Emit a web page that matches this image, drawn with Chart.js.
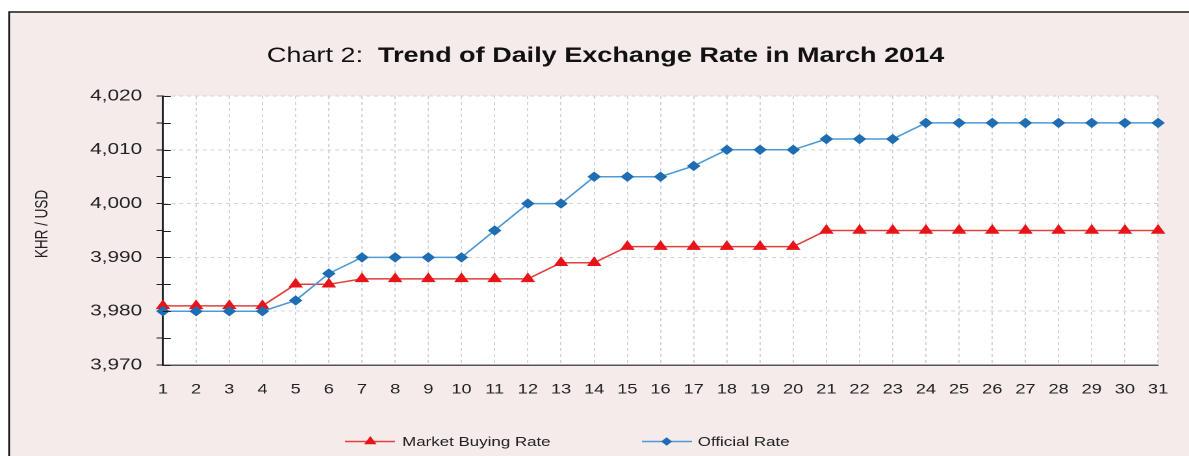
<!DOCTYPE html>
<html><head><meta charset="utf-8">
<script src="https://cdn.jsdelivr.net/npm/chart.js@4.4.1/dist/chart.umd.min.js"></script>
<style>
html,body{margin:0;padding:0;background:#fff;overflow:hidden;}
#wrap{position:absolute;left:0;top:0;width:915px;height:456px;transform:scaleX(1.29945);transform-origin:0 0;}
canvas{display:block;}
</style></head><body>
<div id="wrap"><canvas id="c" width="915" height="456" style="width:915px;height:456px"></canvas></div>
<script>
// ---- data ----
const days = ['1','2','3','4','5','6','7','8','9','10','11','12','13','14','15','16','17','18','19','20','21','22','23','24','25','26','27','28','29','30','31'];
const marketBuyingRate = [3981,3981,3981,3981,3985,3985,3986,3986,3986,3986,3986,3986,3989,3989,3992,3992,3992,3992,3992,3992,3995,3995,3995,3995,3995,3995,3995,3995,3995,3995,3995];
const officialRate = [3980,3980,3980,3980,3982,3987,3990,3990,3990,3990,3995,4000,4000,4005,4005,4005,4007,4010,4010,4010,4012,4012,4012,4015,4015,4015,4015,4015,4015,4015,4015];
const yMin = 3970, yMax = 4020, yStep = 5;
const titlePrefix = 'Chart 2:  ';
const titleMain = 'Trend of Daily Exchange Rate in March 2014';
const yTitle = 'KHR / USD';
const seriesNames = ['Market Buying Rate', 'Official Rate'];

const FONT = "'Liberation Sans', Arial, sans-serif";
const RED_LINE = '#e0403c', RED_PT = '#e81418';
const BLUE_LINE = '#4e9ad4', BLUE_PT = '#1f6db3';

const decor = {
  id: 'decor',
  beforeDraw(chart) {
    const ctx = chart.ctx, W = chart.width, H = chart.height, a = chart.chartArea;
    ctx.save();
    ctx.fillStyle = '#ffffff'; ctx.fillRect(0, 0, W, H);
    ctx.fillStyle = '#f5ebea'; ctx.fillRect(7, 12, W - 7, H - 12);
    ctx.strokeStyle = '#1a1a1a'; ctx.lineWidth = 1.4;
    ctx.beginPath(); ctx.moveTo(7, H); ctx.lineTo(7, 12); ctx.lineTo(W, 12); ctx.stroke();
    ctx.fillStyle = '#ffffff'; ctx.fillRect(a.left, a.top, a.right - a.left, a.bottom - a.top);
    ctx.restore();
  },
  afterDraw(chart) {
    const ctx = chart.ctx, a = chart.chartArea;
    ctx.save();
    // title
    ctx.textBaseline = 'alphabetic';
    ctx.fillStyle = '#111';
    const fs = 20.8;
    ctx.font = `${fs}px ${FONT}`;
    const w1 = ctx.measureText(titlePrefix).width;
    ctx.font = `bold ${fs}px ${FONT}`;
    const w2 = ctx.measureText(titleMain).width;
    const cx = 466, x0 = cx - (w1 + w2) / 2;
    ctx.font = `${fs}px ${FONT}`;
    ctx.textAlign = 'left';
    ctx.fillText(titlePrefix, x0, 62);
    ctx.font = `bold ${fs}px ${FONT}`;
    ctx.fillText(titleMain, x0 + w1, 62);
    // y title
    ctx.save();
    ctx.translate(33, 224);
    ctx.rotate(-Math.PI / 2);
    ctx.font = `13.5px ${FONT}`;
    ctx.textAlign = 'center';
    ctx.textBaseline = 'middle';
    ctx.fillStyle = '#222';
    ctx.fillText(yTitle, 0, 0);
    ctx.restore();
    // inner part of y tick marks
    const ys = chart.scales.y;
    ctx.strokeStyle = '#222'; ctx.lineWidth = 1;
    ys.ticks.forEach(t => {
      const py = Math.round(ys.getPixelForValue(t.value)) + 0.5;
      ctx.beginPath(); ctx.moveTo(a.left, py); ctx.lineTo(a.left + 6, py); ctx.stroke();
    });
    // legend
    const ly = 441.5;
    const items = [
      {x1: 265.5, x2: 304, mx: 285, tx: 309.5, line: RED_LINE, pt: RED_PT, style: 'triangle', r: 4.5, label: seriesNames[0]},
      {x1: 494, x2: 532.5, mx: 513, tx: 537, line: BLUE_LINE, pt: BLUE_PT, style: 'rectRot', r: 3.5, label: seriesNames[1]}
    ];
    items.forEach(it => {
      ctx.strokeStyle = it.line; ctx.lineWidth = 1.5;
      ctx.beginPath(); ctx.moveTo(it.x1, ly); ctx.lineTo(it.x2, ly); ctx.stroke();
      ctx.fillStyle = it.pt; ctx.strokeStyle = it.pt; ctx.lineWidth = 1;
      Chart.helpers.drawPoint(ctx, {pointStyle: it.style, radius: it.r, borderWidth: 1, rotation: 0}, it.mx, ly);
      ctx.fillStyle = '#222';
      ctx.font = `13px ${FONT}`;
      ctx.textAlign = 'left'; ctx.textBaseline = 'alphabetic';
      ctx.fillText(it.label, it.tx, 446);
    });
    ctx.restore();
  }
};

new Chart(document.getElementById('c'), {
  type: 'line',
  data: {
    labels: days,
    datasets: [
      {label: seriesNames[0], data: marketBuyingRate, order: 1,
       borderColor: RED_LINE, borderWidth: 1.5, tension: 0,
       pointStyle: 'triangle', pointRadius: 5.5, pointBackgroundColor: RED_PT, pointBorderColor: RED_PT, pointBorderWidth: 1},
      {label: seriesNames[1], data: officialRate, order: 0,
       borderColor: BLUE_LINE, borderWidth: 1.5, tension: 0,
       pointStyle: 'rectRot', pointRadius: 4.5, pointBackgroundColor: BLUE_PT, pointBorderColor: BLUE_PT, pointBorderWidth: 1}
    ]
  },
  options: {
    responsive: false,
    animation: false,
    devicePixelRatio: 2,
    layout: {padding: {left: 0, top: 96, right: 17.7, bottom: 0}},
    plugins: {legend: {display: false}, title: {display: false}, tooltip: {enabled: false}},
    scales: {
      x: {
        type: 'category',
        offset: false,
        grid: {display: true, drawTicks: false, color: '#cfd3dc', lineWidth: 1},
        border: {display: true, color: '#555', width: 1.5, dash: [3, 3]},
        ticks: {color: '#222', font: {family: FONT, size: 14}, padding: 16, autoSkip: false, maxRotation: 0},
        afterFit(s) { s.height = 91; }
      },
      y: {
        min: yMin, max: yMax,
        grid: {
          drawTicks: true, tickLength: 5, lineWidth: 1,
          color: c => (c.tick && c.tick.value % 10 === 0) ? '#cfd3dc' : 'rgba(0,0,0,0)',
          tickColor: '#222', tickWidth: 1
        },
        border: {display: true, color: '#222', width: 1.5, dash: [3, 3]},
        ticks: {
          stepSize: yStep, autoSkip: false, color: '#222',
          font: {family: FONT, size: 16}, padding: 11,
          callback: v => (v % 10 === 0) ? v.toLocaleString('en-US') : ''
        },
        afterFit(s) { s.width = 125.4; }
      }
    }
  },
  plugins: [decor]
});
</script>
</body></html>
